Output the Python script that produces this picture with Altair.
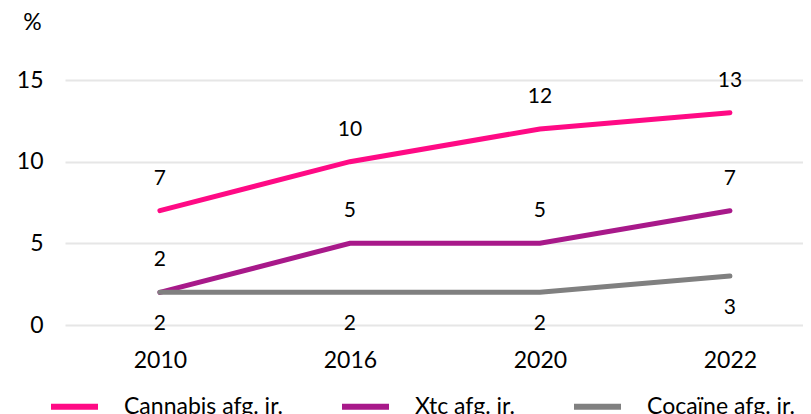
import altair as alt
import pandas as pd

years = ["2010", "2016", "2020", "2022"]
series_names = ["Cannabis afg. jr.", "Xtc afg. jr.", "Cocaïne afg. jr."]
cannabis = [7, 10, 12, 13]
xtc = [2, 5, 5, 7]
cocaine = [2, 2, 2, 3]
label_side = ["above", "above", "below"]
colors = ["#FF0A85", "#A8198A", "#808080"]

rows = []
for name, vals, side in zip(series_names, [cannabis, xtc, cocaine], label_side):
    for y, v in zip(years, vals):
        rows.append({"year": y, "value": v, "series": name, "side": side})
df = pd.DataFrame(rows)

FONT = "Lato"

x_enc = alt.X("year:O", sort=years,
              scale=alt.Scale(type="point", padding=0.442, align=0.565),
              axis=alt.Axis(title=None, labelAngle=0, grid=False, domain=False, ticks=False,
                            labelFontSize=23, labelPadding=24, labelColor="#000000"))
y_enc = alt.Y("value:Q", scale=alt.Scale(domain=[0, 15], nice=False),
              axis=alt.Axis(values=[0, 5, 10, 15], title="%", titleAngle=0, titleAlign="center",
                            titleBaseline="middle", titleX=-33, titleY=-58, titleFontSize=23,
                            titleFontWeight="normal", titleColor="#000000",
                            domain=False, ticks=False, labelFontSize=23, labelPadding=22,
                            labelColor="#000000", gridColor="#E6E6E6", gridWidth=2))
color_enc = alt.Color("series:N", sort=series_names,
                      scale=alt.Scale(domain=series_names, range=colors),
                      legend=alt.Legend(title=None, orient="none", direction="horizontal",
                                        columns=3, legendX=-17, legendY=300,
                                        symbolType="stroke", symbolSize=2209,
                                        symbolStrokeWidth=6, labelFontSize=23,
                                        labelOffset=23, columnPadding=46, padding=0,
                                        labelLimit=300, labelColor="#000000"))

base = alt.Chart(df)
lines = base.mark_line(strokeWidth=5, strokeCap="round").encode(
    x=x_enc, y=y_enc, color=color_enc, detail="series:N")
above = base.transform_filter(alt.datum.side == "above").mark_text(
    dy=-32, fontSize=21, font=FONT, color="#000000", baseline="middle").encode(
    x=alt.X("year:O", sort=years), y="value:Q", text="value:Q")
below = base.transform_filter(alt.datum.side == "below").mark_text(
    dy=32, fontSize=21, font=FONT, color="#000000", baseline="middle").encode(
    x=alt.X("year:O", sort=years), y="value:Q", text="value:Q")

chart = alt.layer(lines, above, below).properties(
    width=738, height=245,
    autosize=alt.AutoSizeParams(type="none"),
    padding={"left": 57, "top": 72, "right": 0, "bottom": 90},
).configure(font=FONT).configure_view(stroke=None)

chart.save("out.html", embed_options={"renderer": "svg", "actions": False})
